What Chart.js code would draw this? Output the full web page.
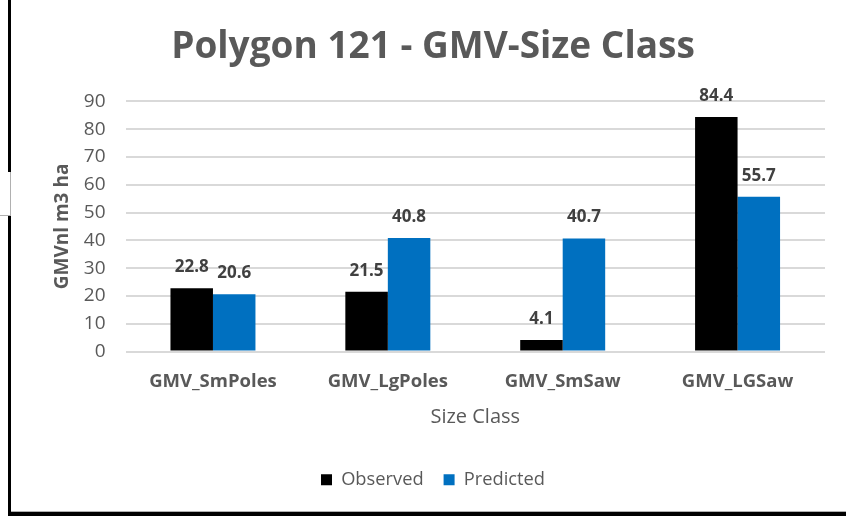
<!DOCTYPE html>
<html>
<head>
<meta charset="utf-8">
<script src="https://cdn.jsdelivr.net/npm/chart.js@4/dist/chart.umd.min.js"></script>
<style>
  html, body { margin: 0; padding: 0; background: #fff; }
  #wrap { position: relative; width: 846px; height: 516px; overflow: hidden; }
  canvas { position: absolute; left: 0; top: 0; }
  .edge { position: absolute; background: #000; }
  .thin { position: absolute; background: #b0b0b0; }
</style>
</head>
<body>
<div id="wrap">
  <canvas id="chart" width="846" height="516"></canvas>
  <!-- window frame lines around the chart -->
  <div class="edge" style="left:8px;top:0;width:3px;height:172px"></div>
  <div class="thin" style="left:10px;top:172px;width:1px;height:44px"></div>
  <div class="thin" style="left:0;top:215px;width:11px;height:1px"></div>
  <div class="edge" style="left:8px;top:216px;width:3px;height:300px"></div>
  <div class="thin" style="left:11px;top:511px;width:835px;height:1px"></div>
  <div class="edge" style="left:8px;top:512px;width:838px;height:4px"></div>
</div>
<script>
const categories = ['GMV_SmPoles', 'GMV_LgPoles', 'GMV_SmSaw', 'GMV_LGSaw'];
const observed = [22.8, 21.5, 4.1, 84.4];
const predicted = [20.6, 40.8, 40.7, 55.7];
const yTicks = [0, 10, 20, 30, 40, 50, 60, 70, 80, 90];

const FONT = "'Open Sans', 'Liberation Sans', sans-serif";

// writes each bar's value just above it
const valueLabels = {
  id: 'valueLabels',
  afterDatasetsDraw(chart) {
    const ctx = chart.ctx;
    ctx.save();
    ctx.font = `bold 17px ${FONT}`;
    ctx.fillStyle = '#404040';
    ctx.textAlign = 'center';
    ctx.textBaseline = 'alphabetic';
    chart.data.datasets.forEach((ds, i) => {
      chart.getDatasetMeta(i).data.forEach((bar, j) => {
        ctx.fillText(ds.data[j].toFixed(1), bar.x, bar.y - 16);
      });
    });
    ctx.restore();
  }
};

new Chart(document.getElementById('chart'), {
  type: 'bar',
  data: {
    labels: categories,
    datasets: [
      { label: 'Observed', data: observed, backgroundColor: '#000000' },
      { label: 'Predicted', data: predicted, backgroundColor: '#0070C0' }
    ]
  },
  options: {
    responsive: false,
    animation: false,
    layout: { padding: { left: 41, right: 21, top: 25, bottom: 17 } },
    datasets: { bar: { categoryPercentage: 0.486, barPercentage: 1.0 } },
    plugins: {
      title: {
        display: true,
        text: 'Polygon 121 - GMV-Size Class',
        color: '#595959',
        font: { family: FONT, size: 37, weight: 'bold' },
        padding: { top: 0, bottom: 32 }
      },
      legend: {
        position: 'bottom',
        labels: {
          color: '#595959',
          font: { family: FONT, size: 18.3 },
          boxWidth: 11,
          boxHeight: 11,
          padding: 20
        }
      },
      tooltip: { enabled: false }
    },
    scales: {
      x: {
        grid: { display: false },
        border: { display: false },
        ticks: { color: '#595959', font: { family: FONT, size: 18.5, weight: 'bold' }, padding: 11 },
        title: { display: true, text: 'Size Class', color: '#595959', font: { family: FONT, size: 20 }, padding: { top: 2, bottom: 21 } }
      },
      y: {
        min: 0,
        max: 90,
        afterBuildTicks(axis) { axis.ticks = yTicks.map(v => ({ value: v })); },
        grid: { color: '#d9d9d9', lineWidth: 2, drawTicks: false },
        border: { display: false },
        ticks: { color: '#595959', font: { family: FONT, size: 19 }, padding: 20 },
        title: { display: true, text: 'GMVnl m3 ha', color: '#595959', font: { family: FONT, size: 19, weight: 'bold' }, padding: { top: 10, bottom: -10 } }
      }
    }
  },
  plugins: [valueLabels]
});
</script>
</body>
</html>
